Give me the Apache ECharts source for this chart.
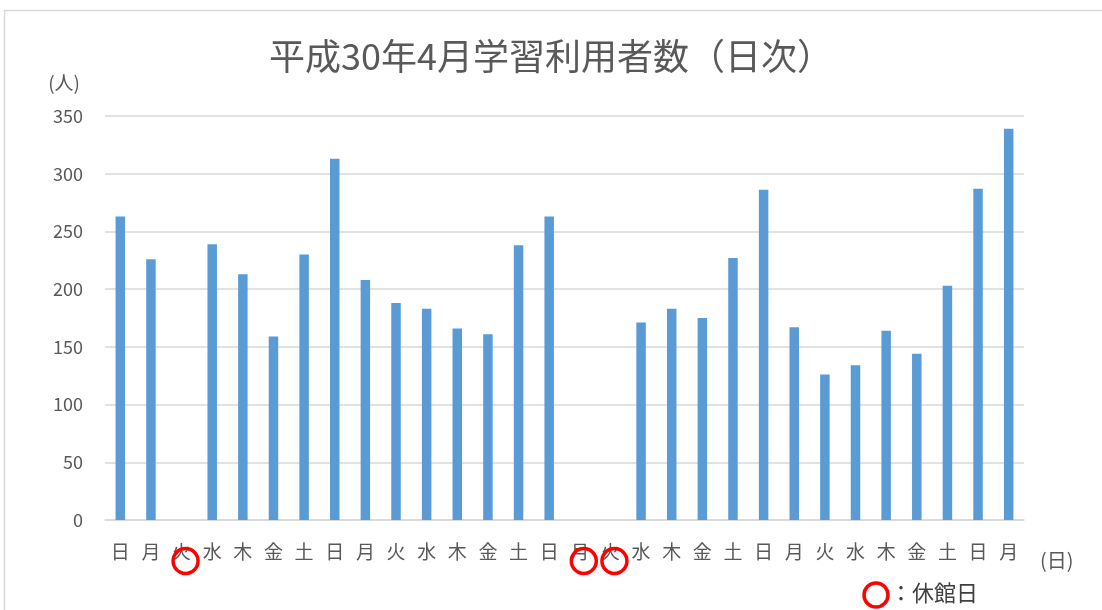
<!DOCTYPE html>
<html>
<head>
<meta charset="utf-8">
<script src="https://cdn.jsdelivr.net/npm/echarts@6/dist/echarts.min.js"></script>
<style>
  html, body { margin: 0; padding: 0; background: #fff; }
  #main { width: 1102px; height: 610px; }
</style>
</head>
<body>
<div id="main"></div>
<script>
// 平成30年4月 1日(日) 〜 30日(月)
const weekdays = ["日", "月", "火", "水", "木", "金", "土", "日", "月", "火", "水", "木", "金", "土", "日",
  "月", "火", "水", "木", "金", "土", "日", "月", "火", "水", "木", "金", "土", "日", "月"];
const visitors = [263, 226, 0, 239, 213, 159, 230, 313, 208, 188, 183, 166, 161, 238, 263,
  0, 0, 171, 183, 175, 227, 286, 167, 126, 134, 164, 144, 203, 287, 339];
// 休館日 (index into weekdays)
const closedDays = [2, 15, 16];
const yTicks = { min: 0, max: 350, interval: 50 };

const font = '"Noto Sans CJK JP", "Noto Sans", sans-serif';
const grey = "#595959";

const options = {
  animation: false,
  textStyle: { fontFamily: font },
  title: {
    text: "平成30年4月学習利用者数（日次）",
    left: "center",
    top: 33,
    textStyle: { fontSize: 36, fontWeight: "normal", color: grey, fontFamily: font }
  },
  grid: { left: 105, right: 78, top: 116, bottom: 90, containLabel: false },
  xAxis: {
    type: "category",
    data: weekdays,
    name: "(日)",
    nameLocation: "end",
    nameGap: 16,
    nameTextStyle: { fontSize: 20, color: grey, verticalAlign: "top", padding: [30, 0, 0, 0] },
    axisLine: { lineStyle: { color: "#d9d9d9", width: 1.5 } },
    axisTick: { show: false },
    axisLabel: { interval: 0, margin: 22, fontSize: 19, color: grey }
  },
  yAxis: {
    type: "value",
    min: yTicks.min,
    max: yTicks.max,
    interval: yTicks.interval,
    name: "(人)",
    nameLocation: "end",
    nameGap: 24,
    nameTextStyle: { fontSize: 19, color: grey, align: "right", padding: [0, 25, 0, 0] },
    axisLine: { show: false },
    axisTick: { show: false },
    axisLabel: { margin: 22, fontSize: 18, color: grey },
    splitLine: { lineStyle: { color: "#d9d9d9", width: 1.5 } }
  },
  series: [{
    type: "bar",
    data: visitors,
    barWidth: "31%",
    itemStyle: { color: "#5b9bd5" }
  }]
};

const myChart = echarts.init(document.getElementById("main"), null, { renderer: "canvas" });
myChart.setOption(options);

// red rings around closed-day labels, plus the legend ring
const graphics = [
  { type: "rect", shape: { x: 4.5, y: 10.5, width: 1200, height: 700 },
    style: { fill: "none", stroke: "#d9d9d9", lineWidth: 1.5 }, silent: true }
];
closedDays.forEach(function (i) {
  const px = myChart.convertToPixel({ xAxisIndex: 0 }, i);
  graphics.push({
    type: "circle",
    shape: { cx: px + 4, cy: 561, r: 12.5 },
    style: { fill: "none", stroke: "#ff0000", lineWidth: 3.5 },
    z: 100
  });
});
graphics.push({
  type: "circle",
  shape: { cx: 876, cy: 595, r: 12 },
  style: { fill: "none", stroke: "#ff0000", lineWidth: 3.5 },
  z: 100
});
graphics.push({
  type: "text",
  left: 890,
  top: 582,
  style: { text: "：休館日", fontSize: 22, fill: "#404040", fontFamily: font }
});
myChart.setOption({ graphic: graphics });

window.onresize = function () {
  myChart.resize();
};
</script>
</body>
</html>
